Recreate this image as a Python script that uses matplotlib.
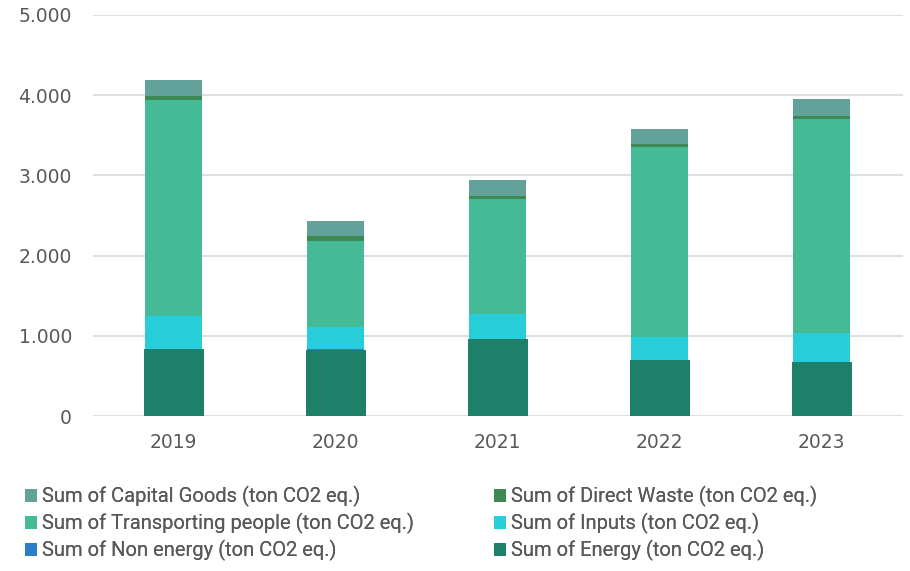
import matplotlib
matplotlib.use('Agg')
import numpy as np
from matplotlib import pyplot as plt
from matplotlib.ticker import FuncFormatter
from matplotlib.patches import Patch

# 데이터
years = ['2019', '2020', '2021', '2022', '2023']
energy = [835, 830, 962, 697, 672]
non_energy = [4, 3, 4, 5, 4]
inputs = [415, 280, 310, 283, 356]
transporting = [2680, 1066, 1432, 2365, 2667]
direct_waste = [52, 63, 33, 46, 37]
capital_goods = [207, 195, 208, 188, 210]

labels = {
    'capital': 'Sum of Capital Goods (ton CO2 eq.)',
    'waste': 'Sum of Direct Waste (ton CO2 eq.)',
    'transport': 'Sum of Transporting people (ton CO2 eq.)',
    'inputs': 'Sum of Inputs (ton CO2 eq.)',
    'non_energy': 'Sum of Non energy (ton CO2 eq.)',
    'energy': 'Sum of Energy (ton CO2 eq.)',
}
colors = {
    'energy': '#1F806A',
    'non_energy': '#2A7FC8',
    'inputs': '#27CDD8',
    'transport': '#44BA97',
    'waste': '#3E8853',
    'capital': '#63A19B',
}

plt.rcParams['font.family'] = ['DejaVu Sans']
text_color = '#595959'

fig = plt.figure(figsize=(9.1, 5.71), dpi=100)
ax = fig.add_axes([0.102, 0.271, 0.890, 0.703])

x = np.arange(len(years))
w = 0.35
series = [('energy', energy), ('non_energy', non_energy), ('inputs', inputs),
          ('transport', transporting), ('waste', direct_waste), ('capital', capital_goods)]
bottom = np.zeros(len(years))
for key, vals in series:
    vals = np.array(vals, dtype=float)
    ww = w + 0.02 if key == 'energy' else w
    ax.bar(x, vals, width=ww, bottom=bottom, color=colors[key], zorder=3)
    bottom += vals

ax.set_xlim(-0.5, 4.5)
ax.set_ylim(0, 5000)
ax.set_yticks(range(0, 5001, 1000))
ax.yaxis.set_major_formatter(FuncFormatter(lambda v, p: f'{int(v):,}'.replace(',', '.')))
ax.set_xticks(x)
ax.set_xticklabels(years)
ax.grid(axis='y', color='#D9D9D9', linewidth=1.2, zorder=0)
for s in ax.spines.values():
    s.set_visible(False)
ax.tick_params(axis='both', length=0, labelsize=13.5, colors=text_color)
ax.tick_params(axis='y', pad=15)
ax.tick_params(axis='x', pad=12)

# 범례 (두 열을 따로 배치)
cols = [(['capital', 'transport', 'non_energy'], 0.027),
        (['waste', 'inputs', 'energy'], 0.543)]
for keys, x0 in cols:
    handles = [Patch(facecolor=colors[k], label=labels[k]) for k in keys]
    leg = fig.legend(handles=handles, loc='upper left', bbox_to_anchor=(x0, 0.149),
                     frameon=False, fontsize=14.5, handlelength=0.6, handleheight=0.6,
                     handletextpad=0.25, labelspacing=0.3,
                     borderaxespad=0, borderpad=0)
    for t in leg.get_texts():
        t.set_color(text_color)
        t.set_family(['Roboto', 'DejaVu Sans'])
    fig.add_artist(leg)

fig.savefig('out.png', dpi=100)
